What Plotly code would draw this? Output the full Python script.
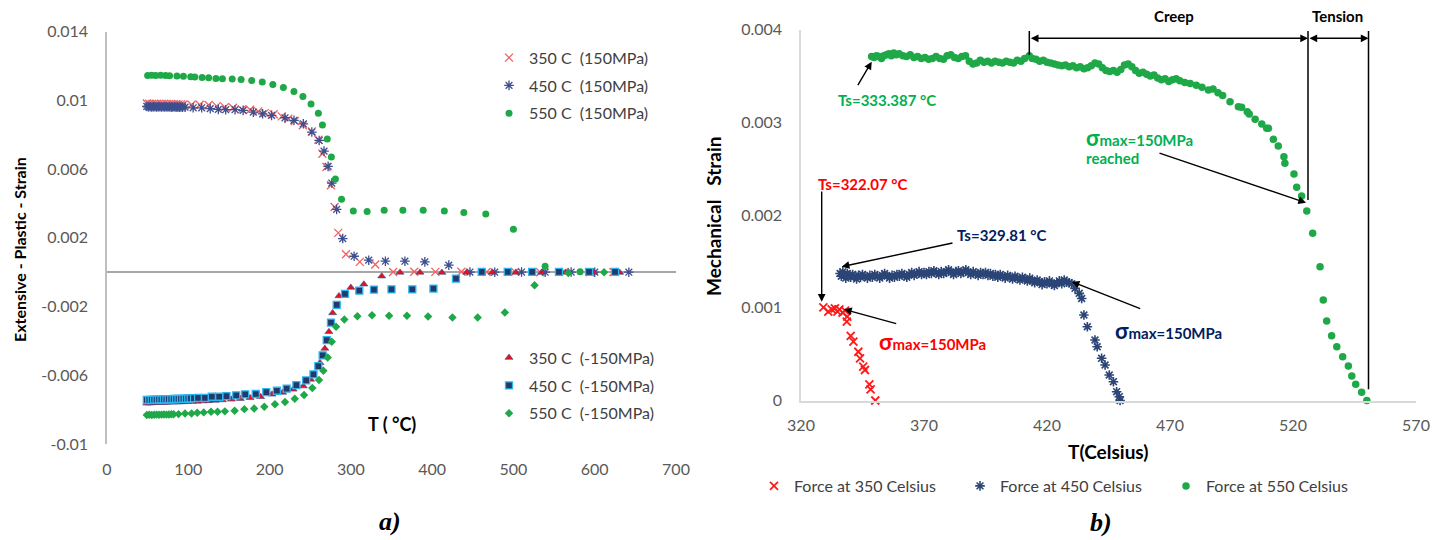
import plotly.graph_objects as go

W, H = 1445, 540

# ---------------- Panel a) data ----------------
x_ticks_a = [0, 100, 200, 300, 400, 500, 600, 700]
y_ticks_a = [-0.01, -0.006, -0.002, 0.002, 0.006, 0.01, 0.014]
y_ticktext_a = ["-0.01", "-0.006", "-0.002", "0.002", "0.006", "0.01", "0.014"]

T_350_pos = [49, 52, 55, 58, 61, 64, 67, 70, 73, 76, 79, 82, 85, 88, 91,
             94, 104, 114, 125, 135, 145, 155, 166, 176, 186,
             194, 205, 215, 223, 231, 241, 252, 260, 265, 270,
             275.5, 280, 284.5, 294, 311, 330, 352, 378, 404, 436,
             467, 502, 533, 563, 594, 623]
S_350_pos = [0.00982, 0.00981, 0.00980, 0.00981, 0.00979, 0.00980, 0.00980, 0.00979, 0.00980, 0.00978,
             0.00979, 0.00978, 0.00978, 0.00977, 0.00977,
             0.00976, 0.00975, 0.00975, 0.00973, 0.00967, 0.00961, 0.00957, 0.00948, 0.00946, 0.00936,
             0.00926, 0.00919, 0.00907, 0.00893, 0.00880, 0.00855, 0.00820, 0.00771, 0.00690, 0.00612,
             0.00506, 0.00380, 0.00229, 0.00105, 0.00060, 0.00045, 0.00001, 0.00003, 0.00002, 0.00003,
             0.00001, 0.00002, 0.00000, 0.00001, 0.00000, 0.00001]

T_450_pos = [49, 51, 53, 55, 57, 59, 61, 63, 65, 67, 69, 71, 73, 75, 77, 79, 81, 83, 85, 87, 89, 91, 93,
             96, 106, 116.5, 127, 137, 146, 157.5, 167.5, 180, 191.5,
             202.5, 219, 230, 241.5, 252, 261, 267, 272, 276.5, 282.5,
             290, 304, 322, 342.5, 366.5, 391, 420.5, 446.5, 477, 510,
             539, 571, 600, 642]
S_450_pos = [0.00965, 0.00963, 0.00964, 0.00962, 0.00964, 0.00963, 0.00962, 0.00964, 0.00963, 0.00962,
             0.00963, 0.00962, 0.00963, 0.00962, 0.00963, 0.00961, 0.00962, 0.00963, 0.00961, 0.00962,
             0.00961, 0.00962, 0.00961,
             0.00961, 0.00957, 0.00957, 0.00952, 0.00948, 0.00946, 0.00946, 0.00942, 0.00932, 0.00922,
             0.00913, 0.00899, 0.00884, 0.00864, 0.00816, 0.00767, 0.00705, 0.00616, 0.00519, 0.00366,
             0.00196, 0.00093, 0.00070, 0.00064, 0.00064, 0.00060, 0.00041, 0.00001, 0.00000, 0.00001,
             0.00000, 0.00001, 0.00000, 0.00000]

T_550_pos = [50, 55, 60, 66, 72, 77, 86, 94, 103, 108, 117, 125, 134, 142, 154, 165, 178, 191, 204, 217,
             230, 241, 251, 260, 265, 271, 276, 281, 288.5, 303,
             320, 341, 364, 389, 415, 439, 466, 500, 539, 582]
S_550_pos = [0.01145, 0.01146, 0.01145, 0.01146, 0.01145, 0.01144, 0.01142, 0.01140, 0.01138, 0.01136,
             0.01134, 0.01132, 0.01128, 0.01126, 0.01124, 0.01122, 0.01116, 0.01107, 0.01093, 0.01075,
             0.01052, 0.01023, 0.00979, 0.00926, 0.00857, 0.00775, 0.00671, 0.00543, 0.00425, 0.00357,
             0.00353, 0.00361, 0.00361, 0.00361, 0.00357, 0.00347, 0.00339, 0.00250, 0.00035, 0.00002]

T_350_neg = [49, 52, 55, 58, 61, 64, 67, 70, 73, 77,
             81, 85, 89, 94, 99, 105, 111, 118, 125, 133,
             142, 153, 164, 176, 189, 203, 216, 229, 241.5, 250.5,
             262, 268, 273, 277.6, 285.4, 300, 316, 338, 360.5, 385,
             412, 442.5, 474, 503, 534.6, 564, 599, 630.7]
S_350_neg = [-0.00763, -0.00762, -0.00761, -0.00760, -0.00760, -0.00759, -0.00759, -0.00758, -0.00758, -0.00757,
             -0.00757, -0.00756, -0.00756, -0.00755, -0.00754, -0.00753, -0.00752, -0.00750, -0.00749, -0.00747,
             -0.00744, -0.00740, -0.00736, -0.00731, -0.00725, -0.00711, -0.00700, -0.00682, -0.00663, -0.00624,
             -0.00527, -0.00444, -0.00347, -0.00237, -0.00138, -0.00089, -0.00070, -0.00023, -0.00001, -0.00001,
             -0.00002, -0.00001, -0.00001, -0.00001, -0.00002, -0.00001, -0.00001, -0.00002]

T_450_neg = [49, 52, 55, 58, 61, 64, 67, 70, 73, 76,
             79, 82, 85, 88, 91, 94, 97, 100, 103, 107,
             112, 120.5, 129, 138, 147, 159, 170, 183, 196, 209,
             221, 233, 245, 254, 260, 265.3, 270.3, 275.5, 282.6, 292.8,
             310.4, 328.4, 350, 375.6, 401.6, 429.3, 461, 493, 523, 556,
             593, 625]
S_450_neg = [-0.00744, -0.00743, -0.00743, -0.00742, -0.00742, -0.00741, -0.00741, -0.00740, -0.00740, -0.00739,
             -0.00739, -0.00738, -0.00738, -0.00737, -0.00737, -0.00736, -0.00736, -0.00735, -0.00734, -0.00733,
             -0.00731, -0.00731, -0.00725, -0.00725, -0.00721, -0.00717, -0.00711, -0.00709, -0.00698, -0.00690,
             -0.00678, -0.00657, -0.00630, -0.00595, -0.00547, -0.00484, -0.00395, -0.00293, -0.00190, -0.00126,
             -0.00107, -0.00101, -0.00100, -0.00100, -0.00095, -0.00037, 0.00002, 0.00002, 0.00002, 0.00002,
             0.00002, 0.00002]

T_550_neg = [49, 52, 55, 58, 61, 64, 67, 70, 73, 76,
             79, 82, 88, 96, 104, 111, 119, 128, 136, 145,
             157, 169, 181, 193.5, 206.6, 219, 231, 242.4, 252.6, 260.8,
             266.2, 271.5, 276.5, 281.8, 292, 308, 326, 347, 369, 395,
             425, 456, 489.5, 526, 567.5, 611.5]
S_550_neg = [-0.00831, -0.00830, -0.00831, -0.00830, -0.00829, -0.00830, -0.00829, -0.00828, -0.00829, -0.00828,
             -0.00827, -0.00827, -0.00826, -0.00822, -0.00822, -0.00818, -0.00816, -0.00812, -0.00812, -0.00810,
             -0.00806, -0.00797, -0.00793, -0.00783, -0.00769, -0.00756, -0.00736, -0.00715, -0.00674, -0.00628,
             -0.00574, -0.00496, -0.00405, -0.00318, -0.00275, -0.00256, -0.00250, -0.00254, -0.00254, -0.00258,
             -0.00264, -0.00264, -0.00235, -0.00076, -0.00004, 0.00000]

# ---------------- Panel b) data ----------------
x_ticks_b = [320, 370, 420, 470, 520, 570]
y_ticks_b = [0, 0.001, 0.002, 0.003, 0.004]
y_ticktext_b = ["0", "0.001", "0.002", "0.003", "0.004"]

T_f350 = [329.1, 331.1, 332.5, 333.8, 334.8, 335.6, 336.9, 337.9, 338.8, 338.6,
          340.2, 341.3, 343.3, 344.0, 345.3, 346.0, 347.8, 348.3, 350.2]
S_f350 = [0.001005, 0.000958, 0.000983, 0.000994, 0.000958, 0.000983, 0.000947, 0.000969, 0.000904, 0.000850,
          0.000696, 0.000634, 0.000526, 0.000455, 0.000365, 0.000329, 0.000175, 0.000121, 0.0]

T_f450 = [335.9, 336.4, 337.0, 337.6, 338.2, 338.8, 339.5, 340.2, 341.0, 341.8, 342.6, 343.4, 344.2,
          345, 346, 347, 348, 349, 350, 351, 352, 353, 354,
          355, 356, 357, 358, 359, 360, 361, 362, 363, 364,
          365, 366, 367, 368, 369, 370, 371, 372, 373, 374,
          375, 376, 377, 378, 379, 380, 381, 382, 383, 384,
          385, 386, 387, 388, 389, 390, 391, 392, 393, 394,
          395, 396, 397, 398, 399, 400, 401, 402, 403, 404,
          405, 406, 407, 408, 409, 410, 411, 412, 413, 414,
          415, 416, 417, 418, 419, 420, 421, 422, 423, 424,
          425, 426, 427, 428, 429, 430,
          431.4, 433.1, 434.1, 435.0, 436.4, 439.5, 440.4, 442.2, 443.6, 445.3,
          447.0, 448.3, 449.4, 449.7]
S_f450 = [0.00137, 0.00134, 0.00139, 0.00135, 0.00132, 0.00137, 0.00135, 0.00133, 0.00136, 0.00134,
          0.00131, 0.00135, 0.00133,
          0.00136, 0.00134, 0.00132, 0.00135, 0.00133, 0.00136, 0.00134, 0.00132, 0.00135, 0.00137,
          0.00134, 0.00132, 0.00135, 0.00133, 0.00136, 0.00134, 0.00137, 0.00135, 0.00133, 0.00136,
          0.00138, 0.00135, 0.00137, 0.00139, 0.00136, 0.00138, 0.00136, 0.00139, 0.00137, 0.00140,
          0.00138, 0.00136, 0.00139, 0.00137, 0.00139, 0.00141, 0.00138, 0.00136, 0.00139, 0.00140,
          0.00137, 0.00139, 0.00141, 0.00138, 0.00136, 0.00139, 0.00137, 0.00135, 0.00138, 0.00136,
          0.00138, 0.00135, 0.00137, 0.00134, 0.00136, 0.00133, 0.00136, 0.00134, 0.00132, 0.00135,
          0.00133, 0.00131, 0.00134, 0.00132, 0.00130, 0.00133, 0.00131, 0.00129, 0.00132, 0.00129,
          0.00127, 0.00130, 0.00128, 0.00125, 0.00128, 0.00126, 0.00129, 0.00126, 0.00124, 0.00127,
          0.00129, 0.00126, 0.00130, 0.00128, 0.00127, 0.00126,
          0.00121, 0.001156, 0.00110, 0.000922, 0.000796, 0.000653, 0.000580, 0.000455, 0.000383, 0.000275,
          0.000203, 0.000095, 0.000041, 0.0]

T_f550 = [348.7, 349.7, 350.7, 351.7, 352.7, 353.7, 354.7, 355.7, 356.7, 357.7, 358.7, 359.9,
          361.4, 362.9, 364.4, 365.9, 367.4, 368.9, 370.4, 371.9, 373.4, 374.9,
          376.4, 377.9, 379.4, 380.9, 382.4, 383.9, 385.4, 386.9, 388.4, 389.9,
          391.4, 392.9, 394.4, 395.9, 397.4, 398.9, 400.4, 401.9, 403.4, 404.9,
          406.4, 407.9, 409.4, 410.9, 412.8, 414.0, 415.5, 417.0, 418.5, 420.0,
          421.5, 423.0, 424.5, 426.0, 427.5, 429.0, 430.5, 432.0, 433.5, 435.0,
          436.5, 438.0, 439.5, 441.0, 442.5, 444.0, 445.5, 447.0, 448.5, 450.0,
          451.5, 453.0, 454.5, 456.0, 457.5, 459.0, 460.5, 462.0, 463.5, 465.0,
          466.5, 468.0, 469.5, 471.0, 472.5, 474.0, 476.0, 478.2, 480.7, 483.0,
          485.6, 487.5, 489.5, 491.4,
          494.4, 497.8, 499.1, 501.4, 502.2, 504.6, 507.3, 509.3, 510.0, 512.0,
          514.0, 516.3, 516.7, 520.4, 521.5, 523.5, 525.6, 528.0, 531.0, 532.3,
          533.7, 535.7, 537.8, 540.2, 542.5, 543.9, 545.5, 547.9, 550.0]
S_f550 = [0.00371, 0.00370, 0.00372, 0.00371, 0.00369, 0.00372, 0.00373, 0.00374, 0.00372, 0.00375, 0.00373, 0.00374,
          0.00372, 0.00371, 0.00373, 0.00370, 0.00371, 0.00369, 0.00370, 0.00368, 0.00369, 0.00371,
          0.00369, 0.00368, 0.00372, 0.00373, 0.00370, 0.00369, 0.00371, 0.00372, 0.00366, 0.00363,
          0.00364, 0.00367, 0.00365, 0.00366, 0.00364, 0.00366, 0.00365, 0.00364, 0.00366, 0.00365,
          0.00364, 0.00367, 0.00366, 0.00369, 0.00372, 0.00369, 0.00368, 0.00366, 0.00367, 0.00365,
          0.00364, 0.00363, 0.00362, 0.00361, 0.00362, 0.00360, 0.00361, 0.00359, 0.00360, 0.00358,
          0.00359, 0.00361, 0.00364, 0.00363, 0.00359, 0.00356, 0.00355, 0.00356, 0.00354, 0.00357,
          0.00362, 0.00363, 0.00360, 0.00356, 0.00353, 0.00354, 0.00352, 0.00350, 0.00351, 0.00348,
          0.00346, 0.00347, 0.00344, 0.00346, 0.00347, 0.00345, 0.00343, 0.00342, 0.00340, 0.00338,
          0.00335, 0.00336, 0.00332, 0.00329,
          0.003224, 0.003169, 0.003163, 0.003115, 0.003091, 0.003033, 0.002983, 0.002936, 0.002936, 0.002818,
          0.002745, 0.002630, 0.002558, 0.002443, 0.002300, 0.002206, 0.002044, 0.001804, 0.001443, 0.001084,
          0.000858, 0.000699, 0.000580, 0.000472, 0.000372, 0.000264, 0.000175, 0.000088, 0.0]

# ---------------- styling ----------------
FONT = "Lato"
GREEN = "#1fa847"
TXT_GREEN = "#00B050"
TXT_RED = "#FF0000"
TXT_NAVY = "#002060"


def px(x):
    return x / W


def py(y):
    return 1 - y / H


fig = go.Figure()

# panel a traces
fig.add_trace(go.Scatter(x=T_350_pos, y=S_350_pos, mode="markers", name="350 C\u00a0 (150MPa)",
                         marker=dict(symbol="x-thin-open", size=8, color="#f2605f", line=dict(width=1.3)),
                         xaxis="x", yaxis="y", legend="legend", legendgroup="a1", cliponaxis=False))
fig.add_trace(go.Scatter(x=T_450_pos, y=S_450_pos, mode="markers", name="450 C\u00a0 (150MPa)",
                         marker=dict(symbol="asterisk-open", size=8, color="#3d4f8f", line=dict(width=1.3)),
                         xaxis="x", yaxis="y", legend="legend", legendgroup="a2", cliponaxis=False))
fig.add_trace(go.Scatter(x=T_550_pos, y=S_550_pos, mode="markers", name="550 C\u00a0 (150MPa)",
                         marker=dict(symbol="circle", size=7, color=GREEN),
                         xaxis="x", yaxis="y", legend="legend", legendgroup="a3", cliponaxis=False))
fig.add_trace(go.Scatter(x=T_350_neg, y=S_350_neg, mode="markers", name="350 C\u00a0 (-150MPa)",
                         marker=dict(symbol="triangle-up", size=7, color="#e8101a",
                                     line=dict(color="#3a4d8f", width=0.6)),
                         xaxis="x", yaxis="y", legend="legend2", legendgroup="b1", cliponaxis=False))
fig.add_trace(go.Scatter(x=T_450_neg, y=S_450_neg, mode="markers", name="450 C\u00a0 (-150MPa)",
                         marker=dict(symbol="square", size=7, color="#1f3a6b",
                                     line=dict(color="#2fb6f0", width=1.3)),
                         xaxis="x", yaxis="y", legend="legend2", legendgroup="b2", cliponaxis=False))
fig.add_trace(go.Scatter(x=T_550_neg, y=S_550_neg, mode="markers", name="550 C\u00a0 (-150MPa)",
                         marker=dict(symbol="diamond", size=6.5, color=GREEN),
                         xaxis="x", yaxis="y", legend="legend2", legendgroup="b3", cliponaxis=False))

# panel b traces
fig.add_trace(go.Scatter(x=T_f350, y=S_f350, mode="markers", name="Force at 350 Celsius",
                         marker=dict(symbol="x-thin-open", size=8, color="#ff1a1a", line=dict(width=1.8)),
                         xaxis="x2", yaxis="y2", legend="legend3", cliponaxis=False))
fig.add_trace(go.Scatter(x=T_f450, y=S_f450, mode="markers", name="Force at 450 Celsius",
                         marker=dict(symbol="asterisk-open", size=8, color="#2b4576", line=dict(width=1.6)),
                         xaxis="x2", yaxis="y2", legend="legend3", cliponaxis=False))
fig.add_trace(go.Scatter(x=T_f550, y=S_f550, mode="markers", name="Force at 550 Celsius",
                         marker=dict(symbol="circle", size=7.5, color=GREEN),
                         xaxis="x2", yaxis="y2", legend="legend3", cliponaxis=False))

tickfont = dict(family=FONT, size=16, color="#595959")

fig.update_layout(
    template="none",
    width=W, height=H,
    margin=dict(l=0, r=0, t=0, b=0),
    paper_bgcolor="white", plot_bgcolor="rgba(0,0,0,0)",
    font=dict(family=FONT, size=16, color="#404040"),
    xaxis=dict(domain=[px(107), px(676)], range=[0, 700], tickvals=x_ticks_a,
               showline=False, showgrid=False, zeroline=False, ticks="",
               tickfont=tickfont, ticklabelstandoff=14, anchor="y", automargin=False),
    yaxis=dict(domain=[py(444), py(31.7)], range=[-0.01, 0.014], tickvals=y_ticks_a, ticktext=y_ticktext_a,
               showline=True, linecolor="#bfbfbf", linewidth=1.5, showgrid=False,
               zeroline=True, zerolinecolor="#a6a6a6", zerolinewidth=1.5, ticks="",
               tickfont=tickfont, ticklabelstandoff=14, anchor="x", automargin=False),
    xaxis2=dict(domain=[px(801), px(1416)], range=[320, 570], tickvals=x_ticks_b,
                showline=True, linecolor="#d9d9d9", linewidth=1.5, showgrid=False, zeroline=False, ticks="",
                tickfont=tickfont, ticklabelstandoff=10, anchor="y2", automargin=False),
    yaxis2=dict(domain=[py(400.5), py(29.7)], range=[0, 0.004], tickvals=y_ticks_b, ticktext=y_ticktext_b,
                showline=True, linecolor="#d9d9d9", linewidth=1.5, showgrid=False, zeroline=False, ticks="",
                tickfont=tickfont, ticklabelstandoff=14, anchor="x2", automargin=False),
    legend=dict(x=px(489), xanchor="left", y=py(85.7), yanchor="middle", bgcolor="rgba(0,0,0,0)",
                traceorder="grouped", tracegroupgap=4, font=dict(family=FONT, size=16, color="#404040")),
    legend2=dict(x=px(489), xanchor="left", y=py(385.7), yanchor="middle", bgcolor="rgba(0,0,0,0)",
                 traceorder="grouped", tracegroupgap=4, font=dict(family=FONT, size=16, color="#404040")),
    legend3=dict(orientation="h", x=px(754), xanchor="left", y=py(486), yanchor="middle",
                 bgcolor="rgba(0,0,0,0)", entrywidth=161, entrywidthmode="pixels",
                 font=dict(family=FONT, size=16, color="#404040")),
    showlegend=True,
)

ann = []


def text(x, y, t, size=15, color="black", xanchor="center", family=FONT, angle=0):
    ann.append(dict(x=px(x), y=py(y), xref="paper", yref="paper", text=t, showarrow=False,
                    xanchor=xanchor, yanchor="middle", textangle=angle,
                    font=dict(family=family, size=size, color=color)))


def arrow(x0, y0, x1, y1, side="end"):
    # tail (x0,y0) -> head (x1,y1) in pixels
    ann.append(dict(x=px(x1), y=py(y1), xref="paper", yref="paper", text="", showarrow=True,
                    ax=x0 - x1, ay=y0 - y1, axref="pixel", ayref="pixel",
                    arrowhead=2, arrowsize=1.1, arrowwidth=1.4, arrowcolor="black",
                    arrowside=side, standoff=0, startstandoff=0))


# panel a texts
text(19, 250, "<b>Extensive - Plastic - Strain</b>", size=16, angle=-90)
text(391.5, 424, "<b>T ( °C)</b>", size=18)
text(390, 521, "<b><i>a)</i></b>", size=26, family="Liberation Serif", color="black")

# panel b texts
text(713, 217, "<b>Mechanical\u00a0\u00a0 Strain</b>", size=19, angle=-90)
text(1108, 451, "<b>T(Celsius)</b>", size=19)
text(1101, 522, "<b><i>b)</i></b>", size=26, family="Liberation Serif", color="black")
text(1174, 16, "<b>Creep</b>", size=15)
text(1337, 16, "<b>Tension</b>", size=15)
text(886.5, 100, "<b>Ts=333.387 °C</b>", size=15, color=TXT_GREEN)
text(1084, 137, "<b><span style='font-size:22px'>σ</span>max=150MPa</b>", size=15, color=TXT_GREEN, xanchor="left")
text(1084, 158, "<b>reached</b>", size=15, color=TXT_GREEN, xanchor="left")
text(863, 184, "<b>Ts=322.07 °C</b>", size=15, color=TXT_RED)
text(877, 341.7, "<b><span style='font-size:22px'>σ</span>max=150MPa</b>", size=15, color=TXT_RED, xanchor="left")
text(1002, 235, "<b>Ts=329.81 °C</b>", size=15, color=TXT_NAVY)
text(1113, 330, "<b><span style='font-size:22px'>σ</span>max=150MPa</b>", size=15, color=TXT_NAVY, xanchor="left")

# arrows
arrow(857, 86.7, 871.7, 61.7)
arrow(1158, 152.7, 1306, 202.7)
arrow(821.7, 190, 821.7, 301.7)
arrow(897.7, 324, 844, 309.3)
arrow(954, 242.7, 841.7, 266.7)
arrow(1141.7, 309.3, 1071.7, 281.7)
arrow(1029.3, 38.3, 1308, 38.3, side="end+start")
arrow(1308, 38.3, 1368.5, 38.3, side="end+start")

shapes = []
for (x, y0, y1) in [(1029.3, 31, 55), (1308, 31, 200), (1368.5, 31, 389.3)]:
    shapes.append(dict(type="line", xref="paper", yref="paper", x0=px(x), x1=px(x), y0=py(y0), y1=py(y1),
                       line=dict(color="black", width=1.5)))

fig.update_layout(annotations=ann, shapes=shapes)

fig.write_html("out.html", config={"displayModeBar": False},
               post_script="document.body.style.margin='0px';")
